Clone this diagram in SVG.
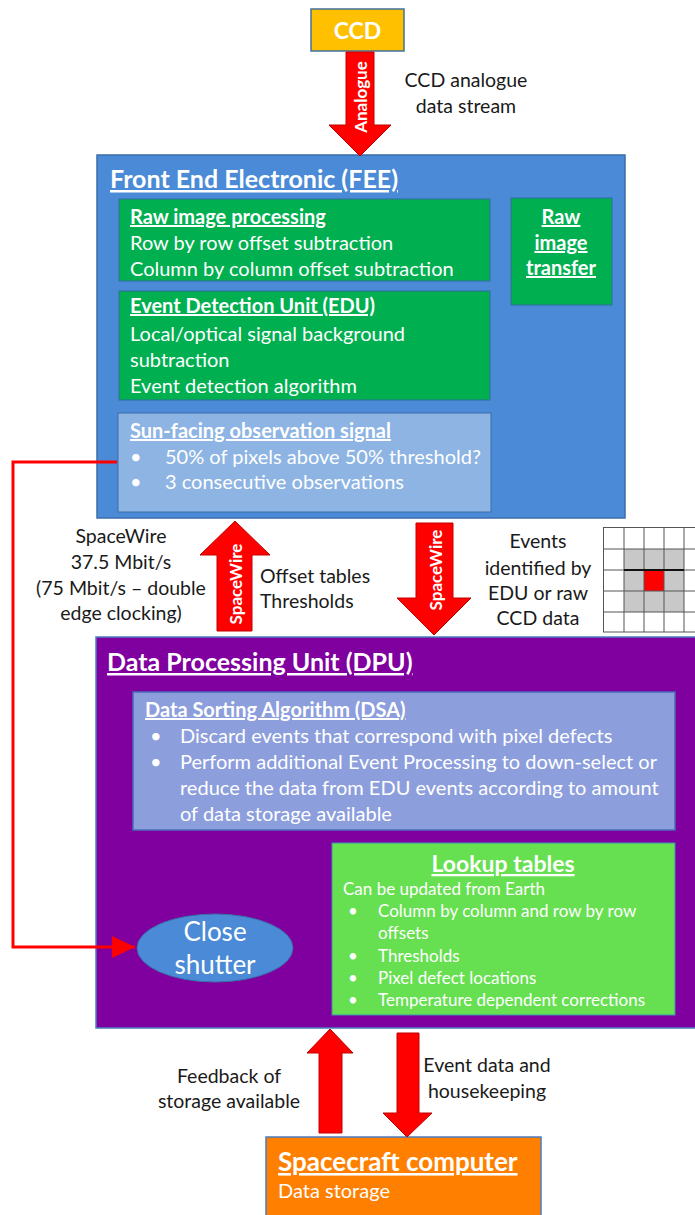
<svg xmlns="http://www.w3.org/2000/svg" width="695" height="1215" viewBox="0 0 695 1215">
  <defs>
    <style>
      text { font-family: Lato, "Open Sans", sans-serif; fill: #ffffff; }
      .dark { fill: #1a1a1a; }
      .body { font-size: 20px; }
      .label { font-size: 19.5px; }
      .head { font-size: 20px; font-weight: bold; text-decoration: underline; }
      .title { font-size: 25px; font-weight: bold; text-decoration: underline; }
      .lut { font-size: 17px; }
      .arrowtxt { font-size: 17px; font-weight: bold; }
      .mid { text-anchor: middle; }
      .fat { fill: #ff0000; stroke: #c00000; stroke-width: 1; }
      .grid line { stroke: #555555; stroke-width: 1; }
    </style>
    <marker id="redHead" markerUnits="userSpaceOnUse" markerWidth="24" markerHeight="24" refX="23" refY="11" orient="auto">
      <path d="M0,0 L23,11 L0,22 Z" fill="#ff0000"/>
    </marker>
  </defs>

  <rect width="695" height="1215" fill="#ffffff"/>

  <!-- CCD sensor -->
  <g id="ccd">
    <rect x="311" y="9" width="93" height="42" fill="#ffc000" stroke="#41719c" stroke-width="1.5"/>
    <text x="357.5" y="39" class="mid" font-size="23" font-weight="bold">CCD</text>
  </g>

  <!-- Front End Electronics -->
  <g id="fee">
    <rect x="97" y="155" width="528" height="363" fill="#4a8ad6" stroke="#3a6ea8" stroke-width="1.5"/>
    <text x="110" y="188" class="title">Front End Electronic (FEE)</text>
  </g>

  <g id="raw-image-processing">
    <rect x="119" y="199" width="371" height="82" fill="#00b050" stroke="#2e6e9e" stroke-width="1"/>
    <text x="130" y="224" class="head">Raw image processing</text>
    <text x="130" y="250" class="body">Row by row offset subtraction</text>
    <text x="130" y="276" class="body">Column by column offset subtraction</text>
  </g>

  <g id="raw-image-transfer">
    <rect x="511" y="198" width="101" height="107" fill="#00b050" stroke="#2e6e9e" stroke-width="1"/>
    <text x="561" y="224" class="head mid">Raw</text>
    <text x="561" y="250" class="head mid">image</text>
    <text x="561" y="275" class="head mid">transfer</text>
  </g>

  <g id="edu">
    <rect x="119" y="291" width="371" height="109" fill="#00b050" stroke="#2e6e9e" stroke-width="1"/>
    <text x="130" y="313" class="head">Event Detection Unit (EDU)</text>
    <text x="130" y="341" class="body">Local/optical signal background</text>
    <text x="130" y="367" class="body">subtraction</text>
    <text x="130" y="393" class="body">Event detection algorithm</text>
  </g>

  <g id="sun-facing">
    <rect x="118" y="413" width="373" height="99" fill="#8db4e3" stroke="#3a6ea8" stroke-width="1"/>
    <text x="130" y="438" class="head">Sun-facing observation signal</text>
    <text x="130" y="464" class="body">•</text>
    <text x="165" y="464" class="body">50% of pixels above 50% threshold?</text>
    <text x="130" y="489" class="body">•</text>
    <text x="165" y="489" class="body">3 consecutive observations</text>
  </g>

  <!-- Data Processing Unit -->
  <g id="dpu">
    <rect x="96" y="637" width="610" height="391" fill="#7f009e" stroke="#4a7ec0" stroke-width="1.5"/>
    <text x="107" y="671" class="title">Data Processing Unit (DPU)</text>
  </g>

  <g id="dsa">
    <rect x="133" y="692" width="542" height="138" fill="#8c9edc" stroke="#4a6cb8" stroke-width="1.5"/>
    <text x="145" y="717" class="head">Data Sorting Algorithm (DSA)</text>
    <text x="150" y="743" class="body">•</text>
    <text x="180" y="743" class="body">Discard events that correspond with pixel defects</text>
    <text x="150" y="769" class="body">•</text>
    <text x="180" y="769" class="body">Perform additional Event Processing to down-select or</text>
    <text x="180" y="795" class="body">reduce the data from EDU events according to amount</text>
    <text x="180" y="821" class="body">of data storage available</text>
  </g>

  <g id="lookup-tables">
    <rect x="332" y="843" width="343" height="172" fill="#66e050" stroke="#3f8fb0" stroke-width="1"/>
    <text x="503" y="872" class="mid" font-size="23" font-weight="bold" text-decoration="underline">Lookup tables</text>
    <text x="343" y="895" class="lut">Can be updated from Earth</text>
    <text x="348" y="917" class="lut">•</text>
    <text x="378" y="917" class="lut">Column by column and row by row</text>
    <text x="378" y="939" class="lut">offsets</text>
    <text x="348" y="962" class="lut">•</text>
    <text x="378" y="962" class="lut">Thresholds</text>
    <text x="348" y="984" class="lut">•</text>
    <text x="378" y="984" class="lut">Pixel defect locations</text>
    <text x="348" y="1006" class="lut">•</text>
    <text x="378" y="1006" class="lut">Temperature dependent corrections</text>
  </g>

  <g id="close-shutter">
    <ellipse cx="215" cy="948" rx="78" ry="34" fill="#4a8ad6" stroke="#3a6ea8" stroke-width="1"/>
    <text x="215" y="941" class="mid" font-size="26">Close</text>
    <text x="215" y="974" class="mid" font-size="26">shutter</text>
  </g>

  <!-- Spacecraft computer -->
  <g id="spacecraft-computer">
    <rect x="266" y="1137" width="275" height="90" fill="#ff7f00" stroke="#4a7ec0" stroke-width="1.5"/>
    <text x="278" y="1171" font-size="26" font-weight="bold" text-decoration="underline">Spacecraft computer</text>
    <text x="278" y="1198" class="body">Data storage</text>
  </g>

  <!-- Event pixel grid icon -->
  <g id="event-grid" class="grid">
    <rect x="624" y="549" width="60" height="63" fill="#c8c8c8"/>
    <rect x="644" y="570" width="20" height="21" fill="#ff0000"/>
    <line x1="603.5" y1="527" x2="603.5" y2="632"/>
    <line x1="624" y1="527" x2="624" y2="632"/>
    <line x1="644" y1="527" x2="644" y2="632"/>
    <line x1="664" y1="527" x2="664" y2="632"/>
    <line x1="684" y1="527" x2="684" y2="632"/>
    <line x1="603" y1="527.5" x2="695" y2="527.5"/>
    <line x1="603" y1="549" x2="695" y2="549"/>
    <line x1="603" y1="570" x2="695" y2="570"/>
    <line x1="603" y1="591" x2="695" y2="591"/>
    <line x1="603" y1="612" x2="695" y2="612"/>
    <line x1="603" y1="632" x2="695" y2="632"/>
    <line x1="624" y1="570" x2="684" y2="570" style="stroke:#111111;stroke-width:2"/>
  </g>

  <!-- Connectors: block arrows and the shutter signal line -->
  <g id="connectors">
    <polygon class="fat" points="346,52 374,52 374,125 391,125 360,156 329,125 346,125"/>
    <text class="arrowtxt mid" dominant-baseline="central" transform="translate(360,97) rotate(-90)">Analogue</text>

    <polygon class="fat" points="235,521 270,555 252,555 252,631 217,631 217,555 200,555"/>
    <text class="arrowtxt mid" dominant-baseline="central" transform="translate(235,584) rotate(-90)">SpaceWire</text>

    <polygon class="fat" points="416,523 453,523 453,598 471,598 434,635 397,598 416,598"/>
    <text class="arrowtxt mid" dominant-baseline="central" transform="translate(435,570) rotate(-90)">SpaceWire</text>

    <polygon class="fat" points="330,1029 353,1053 342,1053 342,1133 319,1133 319,1053 307,1053"/>
    <polygon class="fat" points="397,1033 419,1033 419,1113 432,1113 407,1137 383,1113 397,1113"/>

    <polyline points="117,462 13,462 13,947 135,947" fill="none" stroke="#ff0000" stroke-width="3" marker-end="url(#redHead)"/>
  </g>

  <!-- Free-standing labels -->
  <g id="labels">
    <text x="466" y="87" class="dark label mid">CCD analogue</text>
    <text x="466" y="113" class="dark label mid">data stream</text>

    <text x="121" y="543" class="dark label mid">SpaceWire</text>
    <text x="121" y="569" class="dark label mid">37.5 Mbit/s</text>
    <text x="121" y="595" class="dark label mid">(75 Mbit/s – double</text>
    <text x="121" y="620" class="dark label mid">edge clocking)</text>

    <text x="260" y="583" class="dark label">Offset tables</text>
    <text x="260" y="608" class="dark label">Thresholds</text>

    <text x="538" y="548" class="dark label mid">Events</text>
    <text x="538" y="575" class="dark label mid">identified by</text>
    <text x="538" y="600" class="dark label mid">EDU or raw</text>
    <text x="538" y="625" class="dark label mid">CCD data</text>

    <text x="229" y="1083" class="dark label mid">Feedback of</text>
    <text x="229" y="1108" class="dark label mid">storage available</text>

    <text x="487" y="1072" class="dark label mid">Event data and</text>
    <text x="487" y="1098" class="dark label mid">housekeeping</text>
  </g>
</svg>
